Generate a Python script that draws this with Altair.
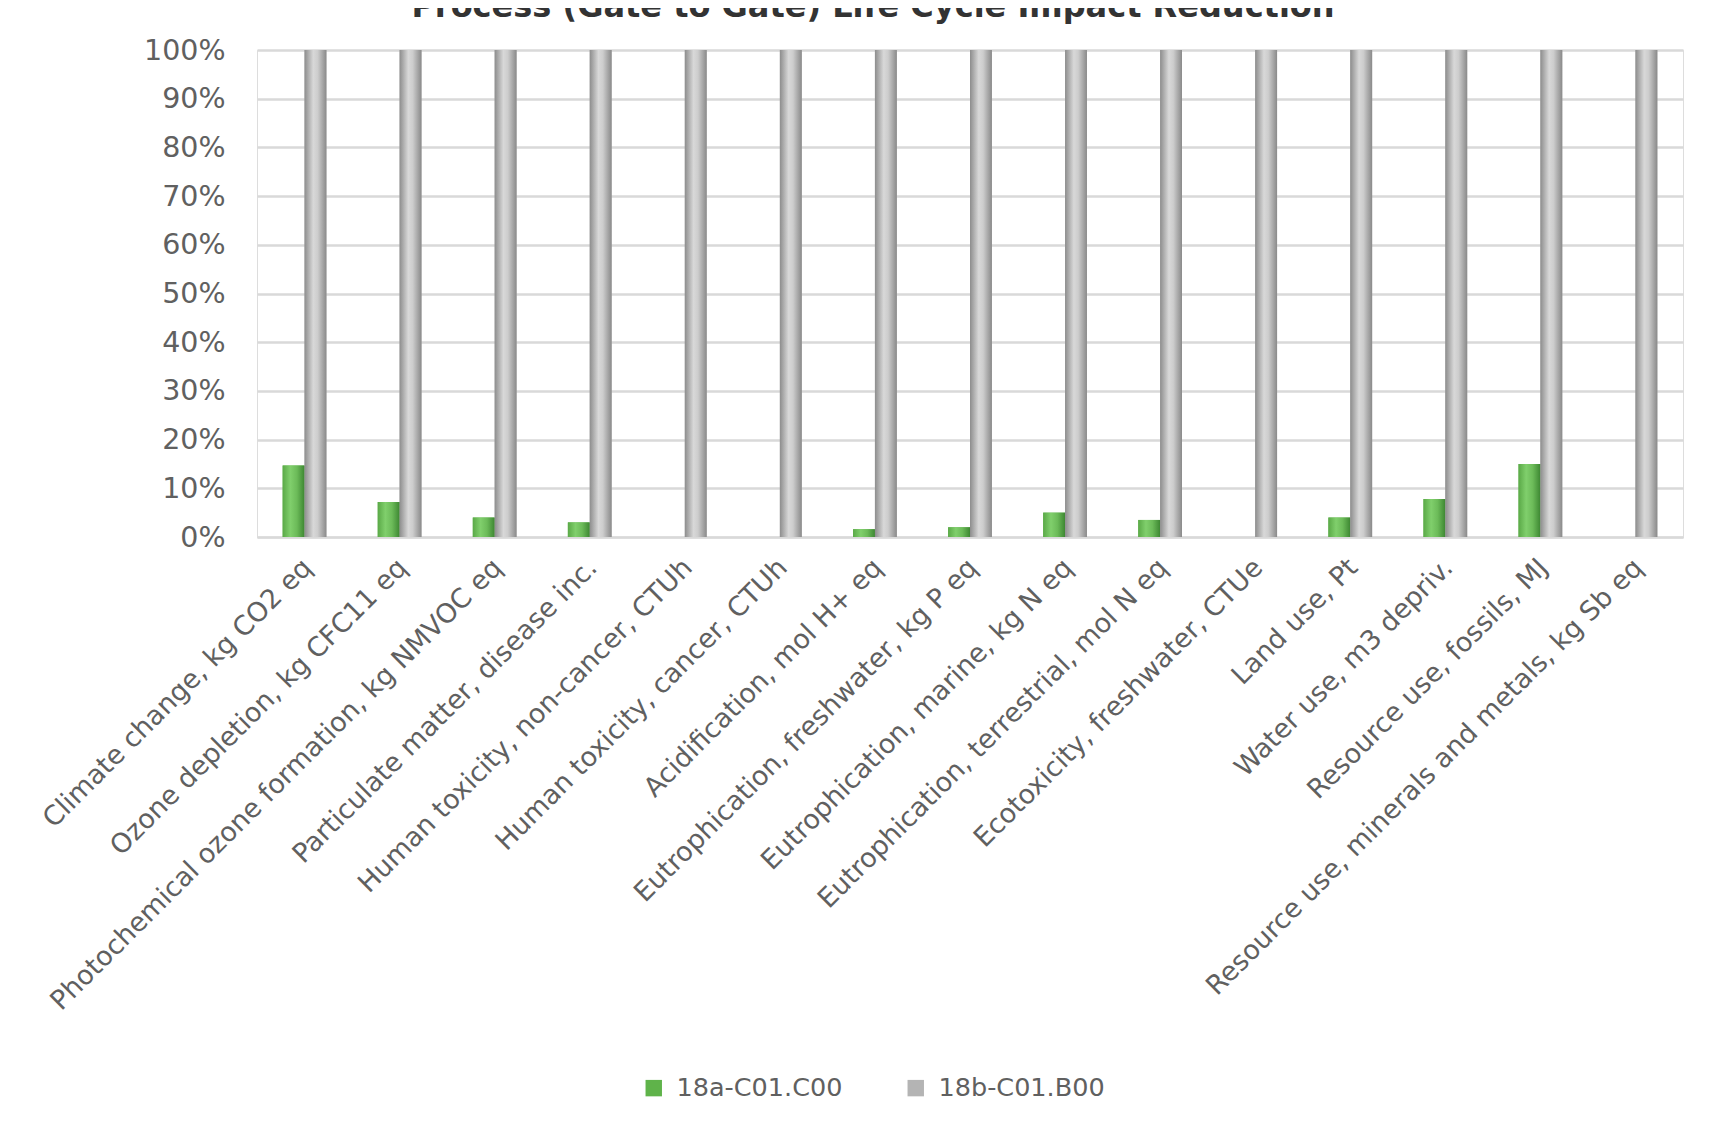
import altair as alt
import pandas as pd

categories = [
    "Climate change, kg CO2 eq",
    "Ozone depletion, kg CFC11 eq",
    "Photochemical ozone formation, kg NMVOC eq",
    "Particulate matter, disease inc.",
    "Human toxicity, non-cancer, CTUh",
    "Human toxicity, cancer, CTUh",
    "Acidification, mol H+ eq",
    "Eutrophication, freshwater, kg P eq",
    "Eutrophication, marine, kg N eq",
    "Eutrophication, terrestrial, mol N eq",
    "Ecotoxicity, freshwater, CTUe",
    "Land use, Pt",
    "Water use, m3 depriv.",
    "Resource use, fossils, MJ",
    "Resource use, minerals and metals, kg Sb eq",
]
series_names = ["18a-C01.C00", "18b-C01.B00"]
values_18a = [0.147, 0.072, 0.040, 0.030, 0.0, 0.0, 0.016, 0.020, 0.050, 0.035, 0.0, 0.040, 0.078, 0.150, 0.0]
values_18b = [1.0] * 15
legend_colors = ["#5fb34a", "#b4b4b4"]

rows = []
for c, a, b in zip(categories, values_18a, values_18b):
    rows.append({"category": c, "series": series_names[0], "value": a})
    rows.append({"category": c, "series": series_names[1], "value": b})
df = pd.DataFrame(rows)

green_grad = {"gradient": "linear", "x1": 0, "x2": 1, "y1": 0, "y2": 0,
              "stops": [{"offset": 0, "color": "#5aa947"},
                        {"offset": 0.35, "color": "#80cf6c"},
                        {"offset": 0.65, "color": "#6cbb59"},
                        {"offset": 1, "color": "#3d8732"}]}
gray_grad = {"gradient": "linear", "x1": 0, "x2": 1, "y1": 0, "y2": 0,
             "stops": [{"offset": 0, "color": "#8d8d8d"},
                       {"offset": 0.4, "color": "#d8d8d8"},
                       {"offset": 0.6, "color": "#cdcdcd"},
                       {"offset": 1, "color": "#8a8a8a"}]}

FONT = "DejaVu Sans"
LABEL = "#606060"

x_enc = alt.X("category:N", sort=categories, title=None,
              scale=alt.Scale(paddingInner=0.54, paddingOuter=0.27),
              axis=alt.Axis(labelAngle=-45, labelFont=FONT, labelFontSize=26.8,
                            labelColor=LABEL, labelPadding=17, labelOffset=-6,
                            ticks=False,
                            domain=True, domainColor="#d9d9d9", domainWidth=2,
                            labelLimit=1000, labelOverlap=False))
y_enc = alt.Y("value:Q", title=None,
              scale=alt.Scale(domain=[0, 1], nice=False),
              axis=alt.Axis(values=[i / 10 for i in range(11)], format=".0%",
                            labelFont=FONT, labelFontSize=28.5, labelColor=LABEL,
                            labelPadding=32, ticks=False, domain=False,
                            grid=True, gridColor="#d9d9d9", gridWidth=2.5))
xo = alt.XOffset("series:N", sort=series_names, scale=alt.Scale(paddingInner=0))

base = alt.Chart(df).mark_bar().encode(
    x=x_enc, y=y_enc, xOffset=xo,
    color=alt.Color("series:N", sort=series_names,
                    scale=alt.Scale(domain=series_names, range=legend_colors),
                    legend=alt.Legend(title=None, orient="none", direction="horizontal",
                                      legendX=384, legendY=1025,
                                      symbolType="square", symbolSize=270,
                                      symbolStrokeWidth=0,
                                      labelFont=FONT, labelFontSize=25.5,
                                      labelColor=LABEL, labelOffset=10,
                                      labelLimit=1000,
                                      columnPadding=60, padding=0)),
)

shade = alt.Chart(df).mark_bar().encode(
    x=alt.X("category:N", sort=categories),
    y="value:Q",
    xOffset=xo,
    color=alt.condition("datum.series === '18a-C01.C00'",
                        alt.value(green_grad), alt.value(gray_grad)),
)

chart = alt.layer(base, shade).properties(
    width=1426, height=487,
    autosize=alt.AutoSizeParams(type="none"),
    padding={"left": 249, "top": 42, "right": 37, "bottom": 587},
    title=alt.TitleParams(text="Process (Gate to Gate) Life Cycle Impact Reduction",
                          font=FONT, fontSize=32, fontWeight="bold", color="#333333",
                          anchor="middle", frame="group", dx=-97, dy=-12, offset=0),
).configure_view(stroke=None).configure(background="white")

chart.save("out.html", embed_options={"renderer": "svg", "actions": False})
